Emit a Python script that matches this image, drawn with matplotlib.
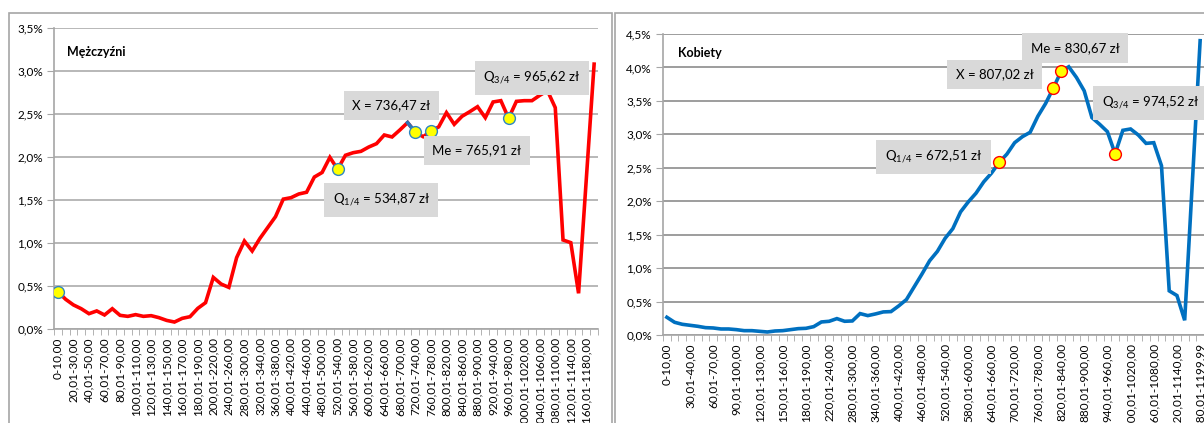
import matplotlib
matplotlib.use("Agg")
import matplotlib.pyplot as plt
from matplotlib.patches import Rectangle
from matplotlib.ticker import FuncFormatter, FixedLocator

plt.rcParams['font.family'] = ['Lato', 'DejaVu Sans']
plt.rcParams['mathtext.default'] = 'regular'

# income brackets (zl): 10 wide up to 200, then 20 wide
bounds = list(range(0, 200, 10)) + list(range(200, 1200, 20))
cats = []
for k, lo in enumerate(bounds):
    hi = bounds[k + 1] if k + 1 < len(bounds) else 1200
    lo_txt = "0" if lo == 0 else f"{lo},01"
    hi_txt = "1199,99" if hi == 1200 else f"{hi},00"
    cats.append(f"{lo_txt}-{hi_txt}")

# share of people in bracket, %
men = [0.434, 0.345, 0.28, 0.236, 0.178, 0.21, 0.163, 0.236, 0.159, 0.147,
       0.167, 0.147, 0.155, 0.132, 0.10, 0.081, 0.124, 0.143, 0.24, 0.306,
       0.60, 0.523, 0.484, 0.83, 1.023, 0.907, 1.054, 1.18, 1.306, 1.51,
       1.527, 1.57, 1.59, 1.767, 1.82, 1.996, 1.857, 2.02, 2.05, 2.066,
       2.116, 2.155, 2.256, 2.233, 2.314, 2.40, 2.287, 2.236, 2.30, 2.35,
       2.516, 2.38, 2.473, 2.527, 2.585, 2.457, 2.64, 2.655, 2.45, 2.647,
       2.655, 2.655, 2.717, 2.77, 2.574, 1.035, 1.004, 0.415, 1.75, 3.08]

women = [0.265, 0.19, 0.16, 0.145, 0.13, 0.11, 0.105, 0.09, 0.09, 0.08,
         0.065, 0.065, 0.055, 0.045, 0.06, 0.065, 0.08, 0.095, 0.10, 0.125,
         0.195, 0.205, 0.245, 0.205, 0.21, 0.32, 0.29, 0.315, 0.345, 0.35,
         0.435, 0.53, 0.72, 0.91, 1.11, 1.25, 1.445, 1.59, 1.84, 1.99,
         2.12, 2.29, 2.42, 2.58, 2.705, 2.875, 2.965, 3.03, 3.27, 3.46,
         3.69, 3.94, 4.01, 3.85, 3.65, 3.25, 3.15, 3.04, 2.71, 3.06,
         3.08, 2.99, 2.865, 2.875, 2.53, 0.66, 0.59, 0.22, 2.3, 4.4]

# marked points (bracket index) and their labels
men_marks = [0, 36, 46, 48, 58]
men_labels = ["Q$_{1/4}$ = 534,87 zł", "X = 736,47 zł", "Me = 765,91 zł", "Q$_{3/4}$ = 965,62 zł"]
women_marks = [43, 50, 51, 58]
women_labels = ["Q$_{1/4}$ = 672,51 zł", "X = 807,02 zł", "Me = 830,67 zł", "Q$_{3/4}$ = 974,52 zł"]

W, H = 1204, 423
fig = plt.figure(figsize=(W / 100, H / 100), dpi=100)

# chart frames
fig.add_artist(Rectangle((9 / W, -0.2), 603 / W, 1.2 - 13 / H, transform=fig.transFigure,
                         fill=False, ec='#A6A6A6', lw=1.2))
fig.add_artist(Rectangle((615 / W, -0.2), 0.6, 1.2 - 13 / H, transform=fig.transFigure,
                         fill=False, ec='#A6A6A6', lw=1.2))


def pct(v, pos):
    return f"{v:.1f}%".replace('.', ',')


def setup(ax, ymax, step, grid_col):
    x = range(len(cats))
    ax.set_xlim(-0.5, len(cats) - 0.5)
    ax.set_ylim(0, ymax)
    ax.yaxis.set_major_locator(FixedLocator([i * 0.5 for i in range(int(ymax / 0.5) + 1)]))
    ax.yaxis.set_major_formatter(FuncFormatter(pct))
    ax.grid(axis='y', color=grid_col, lw=1.2)
    ax.set_axisbelow(True)
    for s in ['top', 'right']:
        ax.spines[s].set_visible(False)
    for s in ['left', 'bottom']:
        ax.spines[s].set_color('#A6A6A6')
        ax.spines[s].set_linewidth(1.2)
    ax.set_xticks(list(x)[::step])
    ax.set_xticklabels(cats[::step], rotation=90, fontsize=8.5)
    ax.set_xticks([i - 0.5 for i in range(len(cats) + 1)], minor=True)
    ax.tick_params(axis='x', which='major', length=0, pad=6)
    ax.tick_params(axis='x', which='minor', length=4, color='#A6A6A6')
    ax.tick_params(axis='y', length=5, color='#A6A6A6', labelsize=8.5, pad=3)


# Mężczyźni
ax1 = fig.add_axes([54 / W, 1 - 329 / H, 544 / W, 301 / H])
setup(ax1, 3.5, 2, '#ABABAB')
idx = list(range(len(men)))
ax1.plot(idx, men, color='#FF0000', lw=2.6, solid_joinstyle='miter', zorder=3)
ax1.plot(idx[45:47], men[45:47], color='#2E75B6', lw=2.6, zorder=3)
ax1.plot(men_marks, [men[i] for i in men_marks], 'o', ms=8.5, mfc='#FFFF00',
         mec='#2E86C1', mew=1.0, zorder=4)
ax1.text(13 / 544, 1 - 24 / 301, "Mężczyźni", transform=ax1.transAxes,
         fontsize=9, fontweight='bold', va='center')
box = dict(boxstyle='square,pad=0.65', fc='#D9D9D9', ec='none')
for (lx, ly), t in zip([(41.6, 1.50), (42.9, 2.60), (53.9, 2.08), (61.0, 2.92)], men_labels):
    ax1.text(lx, ly, t, ha='center', va='center', fontsize=9.5, bbox=box, zorder=5)

# Kobiety
ax2 = fig.add_axes([663 / W, 1 - 335 / H, 541 / W, 301 / H])
setup(ax2, 4.5, 3, '#8C8C8C')
idx = list(range(len(women)))
ax2.plot(idx, women, color='#0070C0', lw=2.6, solid_joinstyle='miter', zorder=3)
ax2.plot(women_marks, [women[i] for i in women_marks], 'o', ms=8.5, mfc='#FFFF00',
         mec='#FF0000', mew=1.0, zorder=4)
ax2.text(15 / 541, 1 - 19 / 301, "Kobiety", transform=ax2.transAxes,
         fontsize=9, fontweight='bold', va='center')
for (lx, ly), t in zip([(34.5, 2.66), (42.4, 3.90), (52.8, 4.29), (62.6, 3.47)], women_labels):
    ax2.text(lx, ly, t, ha='center', va='center', fontsize=9.5, bbox=box, zorder=5)

fig.savefig("out.png", dpi=100)
